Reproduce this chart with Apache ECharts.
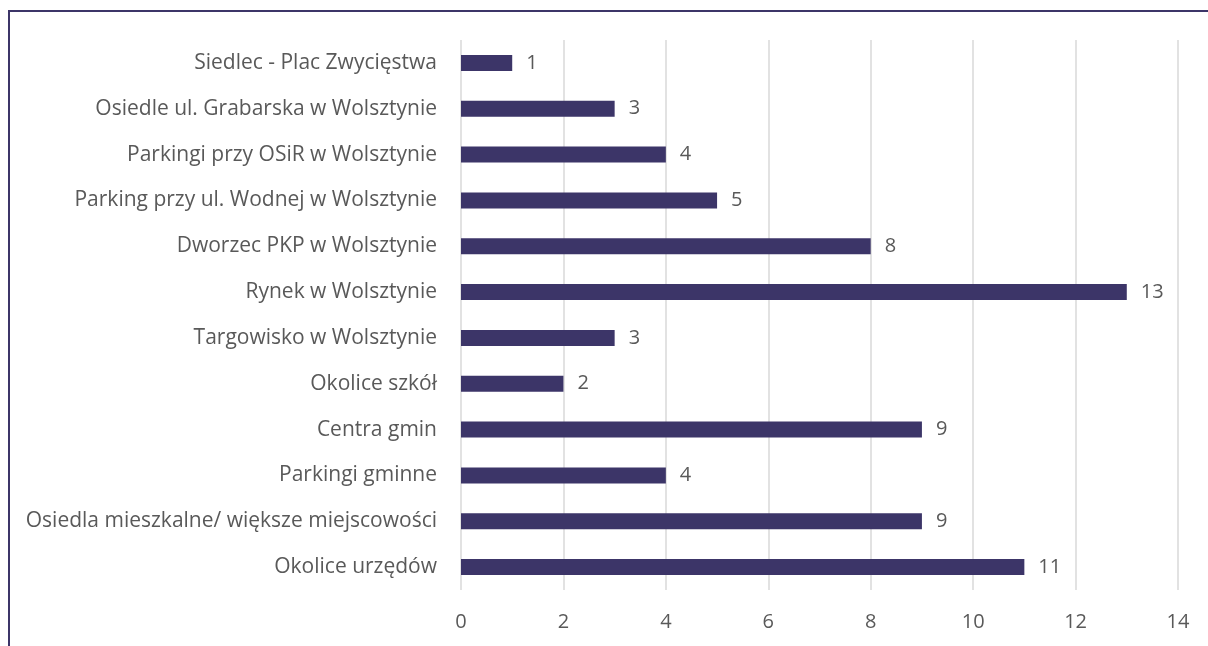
<!DOCTYPE html>
<html>
<head>
<meta charset="utf-8">
<script src="https://cdn.jsdelivr.net/npm/echarts@6/dist/echarts.min.js"></script>
<style>
  html, body { margin: 0; padding: 0; background: #ffffff; }
  #chart { width: 1208px; height: 646px; }
</style>
</head>
<body>
<div id="chart"></div>
<script>
// Locations, listed bottom to top as the category axis draws them
const categories = [
  'Okolice urzędów',
  'Osiedla mieszkalne/ większe miejscowości',
  'Parkingi gminne',
  'Centra gmin',
  'Okolice szkół',
  'Targowisko w Wolsztynie',
  'Rynek w Wolsztynie',
  'Dworzec PKP w Wolsztynie',
  'Parking przy ul. Wodnej w Wolsztynie',
  'Parkingi przy OSiR w Wolsztynie',
  'Osiedle ul. Grabarska w Wolsztynie',
  'Siedlec - Plac Zwycięstwa'
];
const counts = [11, 9, 4, 9, 2, 3, 13, 8, 5, 4, 3, 1];

const axisMin = 0;
const axisMax = 14;
const axisStep = 2;

const textColor = '#595959';
const barColor = '#3C3568';
const fontFamily = '"Open Sans", "Noto Sans", sans-serif';

const chart = echarts.init(document.getElementById('chart'), null, { renderer: 'canvas' });

chart.setOption({
  backgroundColor: '#ffffff',
  animation: false,
  textStyle: { fontFamily: fontFamily },
  grid: { left: 461, right: 30, top: 40, bottom: 56, containLabel: false },
  xAxis: {
    type: 'value',
    min: axisMin,
    max: axisMax,
    interval: axisStep,
    axisLine: { show: false },
    axisTick: { show: false },
    axisLabel: { color: textColor, fontSize: 20, margin: 22, fontFamily: fontFamily },
    splitLine: { show: true, lineStyle: { color: '#D9D9D9', width: 1.5 } }
  },
  yAxis: {
    type: 'category',
    data: categories,
    axisLine: { show: false },
    axisTick: { show: false },
    axisLabel: { color: textColor, fontSize: 21, margin: 24, fontFamily: fontFamily }
  },
  series: [{
    type: 'bar',
    data: counts,
    barWidth: 16,
    itemStyle: { color: barColor },
    label: {
      show: true,
      position: 'right',
      distance: 14,
      color: textColor,
      fontSize: 20,
      fontFamily: fontFamily
    }
  }],
  graphic: [
    // frame: top edge and left edge
    { type: 'line', shape: { x1: 8, y1: 11, x2: 1208, y2: 11 }, style: { stroke: barColor, lineWidth: 2 } },
    { type: 'line', shape: { x1: 9, y1: 10, x2: 9, y2: 646 }, style: { stroke: barColor, lineWidth: 2 } }
  ]
});
</script>
</body>
</html>
